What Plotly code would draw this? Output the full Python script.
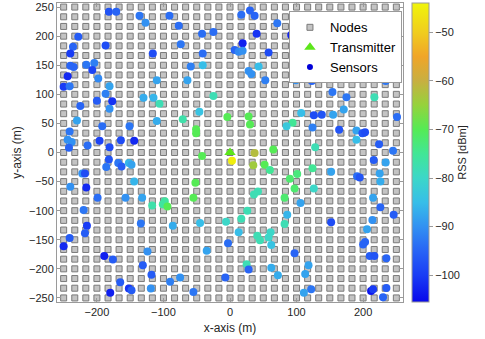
import plotly.graph_objects as go

# Grid of candidate nodes (m), same axis used for x and y
node_axis = [-250.0, -233.3, -216.7, -200.0, -183.3, -166.7, -150.0, -133.3,
             -116.7, -100.0, -83.3, -66.7, -50.0, -33.3, -16.7, 0.0, 16.7,
             33.3, 50.0, 66.7, 83.3, 100.0, 116.7, 133.3, 150.0, 166.7,
             183.3, 200.0, 216.7, 233.3, 250.0]

transmitter_x = [0]
transmitter_y = [0]

# Sensor positions (m) and received signal strength (dBm)
sensor_x = [-182, -171, -136, -127, -91, -77, -74, -116, -59, -64, -110, -130, -115, -106, -71,
            -228, -236, -240, -240, -235, -244, -250, -241, -216, -204, -207, -198, -187, -181,
            -187, -177, -200, -181, -225, -230, -42, -25, -41, -41, -46,
            17, 30, 37, 71, 40, 19, 7, 13, 19, 58, 92, 96, 43, 28, 32, 53, 99, 123, 127, 128,
            155, 171, 184, 205, 229, 236, 211, 234, -25, 154, 175, 217, 171, -4, 28, 107, 126,
            138, 155, 251,
            30, 94, 85, 124, 164, 190, 199, 203, 190, 224, 245, 128, -42, 3, 37, 35, 65, 52, 60,
            216, 234, 152, 124, 101, 90, 97, 126, 191, 195, 225, 226, 42, 36, 82, 106, 215, 226,
            26, 17, -6, 86, 82, 246, 214, 152, 206, -45,
            13, 41, 45, 61, 58, 62, -3, -35, 97, 200, 203, 210, 217, 235, 25, 28, 62, 118, 113,
            72, -7, 122, 111, 212, 215, 235, 230,
            -215, -218, -241, -250, -189, -176, -134, -86, -124, -131, -118, -165, -152, -148,
            -180, -119, -90, -75, -55,
            -241, -244, -238, -242, -214, -196, -192, -181, -164, -144, -151, -110, -51, -51,
            -182, -186, -168, -163, -152, -148, -222, -218, -144, -240, -216, -199, -157, -132,
            -117, -101, -98, -94, -52, -55, -220]
sensor_y = [242, 242, 235, 223, 235, 218, 186, 170, 148, 124, 124, 94, 94, 84, 57,
            199, 182, 170, 149, 147, 131, 113, 114, 151, 154, 142, 127, 184, 114,
            101, 88, 89, 75, 80, 55, 204, 207, 170, 150, 70,
            237, 244, 235, 222, 204, 188, 176, 173, 175, 172, 202, 193, 148, 140, 135, 124, 124,
            123, 154, 143, 135, 165, 146, 148, 157, 153, 127, 123, 97, 104, 95, 95, 74, 61, 62,
            68, 64, 65, 65, 61,
            48, 51, 45, 43, 39, 38, 33, 35, 22, 14, 3, 9, -6, -14, -1, -22, 5, -21, -30,
            -13, -17, -33, -27, -37, -45, -62, -62, -41, -43, -36, -50, -67, -72, -78, -87, -78,
            -94, -100, -114, -119, -107, -123, -107, -116, -120, -132, -121,
            -137, -143, -151, -137, -146, -159, -156, -169, -173, -158, -154, -178, -178, -182,
            -192, -201, -198, -194, -209, -211, -215, -235, -241, -238, -235, -233, -249,
            -126, -139, -147, -161, -178, -184, -122, -126, -170, -194, -210, -223, -234, -237,
            -241, -234, -222, -215, -240,
            36, 22, 18, 8, 12, 20, 45, 9, 21, 20, 45, 54, 40, 33,
            -12, -25, -18, -24, -18, -21, -36, -36, -50, -59, -60, -78, -78, -78,
            -91, -89, -84, -93, -52, -78, -99]
sensor_rss = [-97, -95, -93, -90, -94, -94, -93, -98, -92, -88, -88, -87, -86, -78, -77,
              -96, -95, -100, -95, -95, -102, -100, -93, -93, -92, -99, -91, -98, -88,
              -92, -101, -96, -90, -95, -88, -94, -94, -94, -85, -84,
              -94, -95, -95, -93, -101, -103, -95, -91, -90, -98, -103, -99, -85, -90, -90, -92,
              -90, -95, -86, -86, -80, -92, -93, -94, -90, -85, -96, -93, -78, -93, -93, -78,
              -88, -70, -70, -85, -98, -97, -88, -94,
              -70, -75, -83, -92, -97, -88, -97, -98, -85, -96, -93, -78, -70, -45, -62, -64,
              -70, -70, -75, -96, -88, -88, -75, -73, -72, -72, -80, -94, -97, -88, -87, -78,
              -78, -72, -88, -88, -95, -78, -78, -80, -86, -78, -96, -90, -98, -88, -85,
              -85, -78, -78, -80, -80, -84, -94, -88, -95, -95, -95, -96, -97, -95, -78, -95,
              -87, -88, -88, -87, -95, -93, -88, -104, -100, -96, -95,
              -100, -96, -96, -102, -103, -96, -93, -87, -90, -96, -96, -96, -101, -96,
              -103, -90, -92, -90, -93,
              -93, -90, -90, -95, -94, -99, -94, -98, -98, -102, -93, -87, -70, -70,
              -97, -93, -93, -96, -86, -88, -90, -98, -86, -90, -102, -94, -90, -88,
              -77, -76, -76, -70, -70, -70, -93]

x_ticks = [-200, -100, 0, 100, 200]
y_ticks = [-250, -200, -150, -100, -50, 0, 50, 100, 150, 200, 250]
cbar_ticks = [-100, -90, -80, -70, -60, -50]

rss_min, rss_max = -105.5, -44

rss_colors = [
    [0.0, "rgb(8,8,235)"],
    [0.089, "rgb(25,60,245)"],
    [0.171, "rgb(40,100,245)"],
    [0.252, "rgb(50,145,242)"],
    [0.333, "rgb(55,190,232)"],
    [0.415, "rgb(60,215,200)"],
    [0.496, "rgb(65,230,150)"],
    [0.577, "rgb(85,235,85)"],
    [0.659, "rgb(150,210,60)"],
    [0.740, "rgb(200,175,65)"],
    [0.821, "rgb(240,165,40)"],
    [0.902, "rgb(240,205,30)"],
    [1.0, "rgb(240,245,10)"],
]

font = "Liberation Sans, Arial, sans-serif"
ink = "#262626"
frame = "#9a9a9a"

node_x = [x for y in node_axis for x in node_axis]
node_y = [y for y in node_axis for x in node_axis]

fig = go.Figure()

fig.add_trace(go.Scatter(
    x=node_x, y=node_y, mode="markers", name="Nodes",
    marker=dict(symbol="square", size=6, color="#c4c4c4",
                line=dict(color="#7a7a7a", width=1)),
))

fig.add_trace(go.Scatter(
    x=sensor_x, y=sensor_y, mode="markers", name="Sensors", showlegend=False,
    marker=dict(
        size=8, color=sensor_rss, colorscale=rss_colors, cmin=rss_min, cmax=rss_max,
        colorbar=dict(
            x=1.026, xanchor="left", xpad=0, y=0.5, yanchor="middle", ypad=0,
            len=1, thickness=17, outlinecolor=frame, outlinewidth=1,
            tickvals=cbar_ticks, ticks="outside", ticklen=4, tickcolor=frame,
            tickfont=dict(size=11, color=ink, family=font),
            title=dict(text="RSS [dBm]", side="right",
                       font=dict(size=11, color=ink, family=font)),
        ),
    ),
))

fig.add_trace(go.Scatter(
    x=transmitter_x, y=transmitter_y, mode="markers", name="Transmitter",
    marker=dict(symbol="triangle-up", size=10, color="#5ce61a"),
))

# legend entry for the sensors (single dark-blue dot, as in the original)
fig.add_trace(go.Scatter(
    x=[None], y=[None], mode="markers", name="Sensors",
    marker=dict(size=6, color="#0000d8"),
))

axis_style = dict(
    showgrid=False, zeroline=False, showline=True, linecolor=frame, linewidth=1,
    mirror="ticks", ticks="inside", ticklen=4, tickcolor=frame, automargin=False,
    tickfont=dict(size=11, color=ink, family=font),
)

fig.update_xaxes(range=[-260, 260], tickvals=x_ticks,
                 title=dict(text="x-axis (m)", font=dict(size=12, color=ink, family=font), standoff=6),
                 **axis_style)
fig.update_yaxes(range=[-257, 257], tickvals=y_ticks,
                 title=dict(text="y-axis (m)", font=dict(size=12, color=ink, family=font), standoff=4),
                 **axis_style)

fig.update_layout(
    width=485, height=339,
    margin=dict(l=57, r=82, t=3, b=37, autoexpand=False),
    plot_bgcolor="white", paper_bgcolor="white",
    font=dict(family=font, color=ink),
    legend=dict(
        x=0.997, xanchor="right", y=0.972, yanchor="top",
        bgcolor="white", bordercolor=frame, borderwidth=1,
        font=dict(size=13, color="#000000", family=font),
        itemwidth=30, tracegroupgap=0,
    ),
)

# drop the browser's default body margin so the figure sits at the page corner
fig.write_html("out.html", config={"displayModeBar": False},
               post_script="document.body.style.margin = '0';")
